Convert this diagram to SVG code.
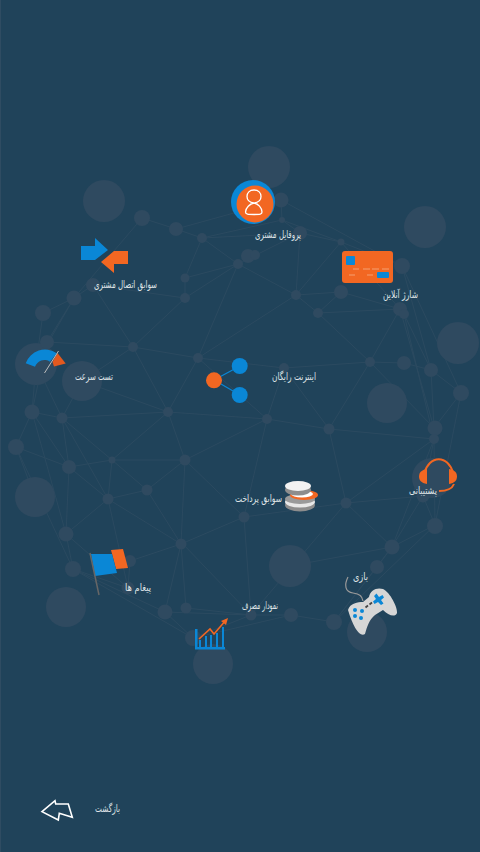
<svg xmlns="http://www.w3.org/2000/svg" width="480" height="852" viewBox="0 0 480 852">
<style>
.e{fill:none;stroke:#2b4a60;stroke-width:1}
.n{fill:#2f4a60}
.t{font-family:"DejaVu Sans","Noto Sans",sans-serif;font-size:10.5px;fill:#dfe4e7;text-anchor:middle}
.o{fill:#f26722}
.b{fill:#0a87d6}
</style>
<rect width="480" height="852" fill="#20435a"/>
<path d="M0.5 0V852" stroke="#2f4c62" fill="none"/>
<g id="connectors">
<path class="e" d="M142 218L176 229M176 229L202 238M176 229L281 200M142 218L74 298M202 238L185 278M202 238L238 264M202 238L300 233M202 238L282 220M185 278L185 298M185 278L238 264M185 298L238 264M185 298L133 347M185 298L93 285M93 285L74 298M93 285L133 347M74 298L43 313M74 298L47 342M74 298L36 364M43 313L36 364M47 342L133 347M133 347L198 358M133 347L168 412M133 347L82 381M82 381L168 412M238 264L198 358M238 264L296 295M238 264L300 233M281 200L282 220M281 200L402 266M282 220L300 233M282 220L341 242M300 233L341 242M300 233L296 295M341 242L296 295M341 242L402 266M341 242L400 309M296 295L318 313M296 295L341 292M296 295L198 358M318 313L341 292M318 313L400 309M318 313L370 362M341 292L400 309M400 309L370 362M404 314L431 370M400 309L434 428M402 266L431 370M402 266L461 393M404 314L434 439M370 362L404 363M404 363L431 370M431 370L461 393M431 370L434 428M461 393L434 428M461 393L435 525M370 362L434 428M370 362L329 429M370 362L284 368M198 358L284 368M198 358L267 419M198 358L168 412M284 368L267 419M284 368L329 429M267 419L329 429M329 429L434 439M329 429L346 503M434 439L346 503M434 439L392 547M434 439L435 525M434 439L423 496M423 496L435 525M423 496L392 547M346 503L423 496M346 503L392 547M346 503L251 615M346 503L244 517M267 419L244 517M267 419L185 460M267 419L168 412M168 412L185 460M168 412L112 460M185 460L112 460M185 460L147 490M185 460L181 544M185 460L244 517M181 544L244 517M168 412L62 418M435 525L392 547M435 525L334 622M392 547L377 567M392 547L290 566M392 547L334 622M377 567L334 622M334 622L291 615M291 615L251 615M251 615L244 517M251 615L182 543M251 615L186 608M251 615L165 612M251 615L193 638M193 638L165 612M186 608L181 544M165 612L181 544M193 638L291 615M193 638L73 569M165 612L73 569M181 544L147 490M181 544L108 499M181 544L130 561M147 490L108 499M147 490L112 460M112 460L108 499M112 460L69 467M112 460L62 418M108 499L69 467M108 499L62 418M108 499L66 534M108 499L128 588M69 467L66 534M69 467L16 447M69 467L62 418M69 467L32 412M32 412L62 418M32 412L16 447M32 412L36 364M62 418L36 364M62 418L82 381M32 412L47 342M16 447L73 569M16 447L35 497M32 412L66 534M66 534L73 569M66 534L128 588M73 569L128 588M130 561L128 588"/>
</g>
<g id="network-nodes" class="n">
<circle cx="269" cy="167" r="21"/><circle cx="104" cy="201" r="21"/><circle cx="425" cy="227" r="21"/><circle cx="458" cy="343" r="21"/><circle cx="387" cy="403" r="20"/><circle cx="82" cy="381" r="20"/><circle cx="36" cy="364" r="21"/><circle cx="35" cy="497" r="20"/><circle cx="66" cy="607" r="20"/><circle cx="213" cy="664" r="20"/><circle cx="290" cy="566" r="21"/><circle cx="367" cy="632" r="20"/><circle cx="432" cy="478" r="20"/>
<circle cx="281" cy="200" r="7.5"/><circle cx="282" cy="220" r="3"/><circle cx="300" cy="233" r="7"/><circle cx="341" cy="242" r="3.5"/><circle cx="202" cy="238" r="5"/><circle cx="238" cy="264" r="5"/><circle cx="248" cy="256" r="7"/><circle cx="255" cy="255" r="5"/><circle cx="296" cy="295" r="5"/><circle cx="318" cy="313" r="5"/><circle cx="341" cy="292" r="7"/><circle cx="402" cy="266" r="8"/><circle cx="400" cy="309" r="7"/><circle cx="404" cy="314" r="5"/><circle cx="176" cy="229" r="7"/><circle cx="142" cy="218" r="8"/><circle cx="185" cy="278" r="4.5"/><circle cx="185" cy="298" r="5"/><circle cx="93" cy="285" r="7"/><circle cx="74" cy="298" r="7.5"/><circle cx="43" cy="313" r="8"/><circle cx="47" cy="342" r="7"/><circle cx="133" cy="347" r="5"/><circle cx="198" cy="358" r="5"/><circle cx="168" cy="412" r="5"/><circle cx="32" cy="412" r="7.5"/><circle cx="62" cy="418" r="5.5"/><circle cx="284" cy="368" r="5"/><circle cx="370" cy="362" r="5"/><circle cx="404" cy="363" r="7"/><circle cx="431" cy="370" r="7"/><circle cx="461" cy="393" r="8"/><circle cx="435" cy="428" r="7.5"/><circle cx="434" cy="439" r="5"/><circle cx="267" cy="419" r="5"/><circle cx="329" cy="429" r="5.5"/><circle cx="346" cy="503" r="5.5"/><circle cx="244" cy="517" r="5.5"/><circle cx="435" cy="526" r="8"/><circle cx="423" cy="496" r="6.5"/><circle cx="392" cy="547" r="7.5"/><circle cx="377" cy="567" r="7"/><circle cx="334" cy="622" r="8"/><circle cx="291" cy="615" r="7"/><circle cx="251" cy="615" r="5.5"/><circle cx="16" cy="447" r="8"/><circle cx="69" cy="467" r="7"/><circle cx="112" cy="460" r="3.5"/><circle cx="185" cy="460" r="5.5"/><circle cx="108" cy="499" r="5.5"/><circle cx="147" cy="490" r="5.5"/><circle cx="66" cy="534" r="7.5"/><circle cx="73" cy="569" r="8"/><circle cx="130" cy="561" r="6"/><circle cx="128" cy="588" r="6.5"/><circle cx="181" cy="544" r="5.5"/><circle cx="165" cy="612" r="7.5"/><circle cx="186" cy="608" r="5.5"/><circle cx="193" cy="638" r="8"/>
</g>
<g id="profile">
<circle class="b" cx="253" cy="202" r="22"/><circle class="o" cx="255" cy="204" r="18.5"/>
<path d="M254 190C258.500 190 261 193 261 196.500C261 200 258 202.500 254 203C250 202.500 247 200 247 196.500C247 193 249.500 190 254 190ZM254 203C258 203.500 262 208 262 212C262 214.500 260 214.500 254 214.500C248 214.500 245.500 214.500 245.500 212C245.500 208 250 203.500 254 203Z" fill="none" stroke="#fff" stroke-width="1.3"/>
<text class="t" x="278" y="238" textLength="46" lengthAdjust="spacingAndGlyphs">پروفایل مشتری</text>
</g>
<g id="charge">
<rect class="o" x="342" y="251" width="51" height="32" rx="3"/>
<rect class="b" x="346" y="256" width="9" height="9" rx="1"/>
<rect class="b" x="377" y="272" width="12" height="6" rx="1"/>
<path d="M353 269h6M363 269h7M372 269h7M382 269h7M349 275h6M367 275h6" stroke="#f7c7a8" stroke-width="0.6" fill="none"/>
<text class="t" x="400.500" y="298" textLength="35" lengthAdjust="spacingAndGlyphs">شارژ آنلاین</text>
</g>
<g id="history">
<path class="b" d="M81 246H95V238L108 250L95 260H81Z"/>
<path class="o" d="M128 251H114L101 262L114 273V264H128Z"/>
<text class="t" x="125.500" y="288" textLength="63" lengthAdjust="spacingAndGlyphs">سوابق اتصال مشتری</text>
</g>
<g id="speed">
<path class="b" d="M25.700 363.300A20.400 20.400 0 0 1 56.700 353.300L50 361.700A10 10 0 0 0 35 366.700Z"/>
<path d="M57.500 353L65.700 363.500L54 366.500L52.500 362Z" fill="#e2591f"/>
<path d="M44.500 373L58.500 351" stroke="#bdbdbd" stroke-width="1" fill="none"/>
<text class="t" x="94" y="380" textLength="38" lengthAdjust="spacingAndGlyphs">تست سرعت</text>
</g>
<g id="free">
<path d="M214 380L240 366M214 380L240 395" stroke="#0a87d6" stroke-width="1.2" fill="none"/>
<circle class="o" cx="214" cy="380.300" r="8"/><circle class="b" cx="239.700" cy="366" r="8"/><circle class="b" cx="239.700" cy="395" r="8"/>
<text class="t" x="294" y="380" textLength="44" lengthAdjust="spacingAndGlyphs">اینترنت رایگان</text>
</g>
<g id="payment">
<ellipse cx="300" cy="505" rx="15" ry="6.500" fill="#8d8d8d"/><ellipse cx="300" cy="502" rx="15" ry="5.500" fill="#e8e8e8"/><ellipse cx="300" cy="499" rx="15" ry="5" fill="#9a9a9a"/>
<ellipse cx="304" cy="495" rx="14" ry="5" fill="#f26722"/><ellipse cx="302" cy="494" rx="11" ry="3.500" fill="#fff"/>
<ellipse cx="298" cy="490" rx="13" ry="5.500" fill="#8d8d8d"/><ellipse cx="298" cy="486" rx="13" ry="5" fill="#f2f2f2"/>
<text class="t" x="258.500" y="502" textLength="47" lengthAdjust="spacingAndGlyphs">سوابق پرداخت</text>
</g>
<g id="support">
<path d="M424.500 473A15 20 0 0 1 453 473" fill="none" stroke="#f26722" stroke-width="2"/>
<path class="o" d="M427 469V484C421 483 419 480 419 476.500C419 473 421 470 427 469Z"/>
<path class="o" d="M449 469V484C455 483 457 480 457 476.500C457 473 455 470 449 469Z"/>
<path d="M454 484C452 489 447 491 439 491" fill="none" stroke="#f26722" stroke-width="2"/>
<text class="t" x="423" y="494" textLength="28" lengthAdjust="spacingAndGlyphs">پشتیبانی</text>
</g>
<g id="messages">
<path class="o" d="M111 550L123 549L128 568L116 569Z"/>
<path class="b" d="M91 554L112 554L117 573L95 576Z"/>
<path d="M90 553L99 595" stroke="#666" stroke-width="1.5" fill="none"/>
<text class="t" x="138" y="591" textLength="26" lengthAdjust="spacingAndGlyphs">پیغام ها</text>
</g>
<g id="usage">
<path class="b" d="M195 629H197.500V647H225V649.500H195Z"/>
<path class="b" d="M199 640h2v7h-2zM205 636h2v11h-2zM210 635h2v12h-2zM216 633h2v14h-2zM222 627h2v20h-2z"/>
<path d="M199 639L210 629L214 634L226 620" fill="none" stroke="#f26722" stroke-width="1.6"/>
<path class="o" d="M228 618L221 621L226 625Z"/>
<text class="t" x="260" y="609" textLength="36" lengthAdjust="spacingAndGlyphs">نمودار مصرف</text>
</g>
<g id="game">
<path d="M348 577C344 585 345 592 353 593C360 594 362 596 363 601" fill="none" stroke="#999" stroke-width="1.2"/>
<path d="M348 610C350 603 358 602 363 602L369 597C370 590 377 587 383 589C390 592 398 608 397 613C395 618 388 615 383 610L375 615C369 620 367 627 365 634C360 638 353 627 348 610Z" fill="#d6d6d6"/>
<path class="b" d="M376.500 593.500L379 597L382.500 595L384 597.500L381 600L383.500 603.500L381 605L378 602L374.500 604L373 601.500L376 599L374 596Z"/>
<circle class="b" cx="355" cy="610" r="2"/><circle class="b" cx="362" cy="611" r="2"/><circle class="b" cx="355" cy="616" r="2"/><circle class="b" cx="361" cy="618" r="2"/>
<path d="M365.500 607.500L368 605.500M369.500 604.500L372 602.500" stroke="#444" stroke-width="1.8" fill="none"/>
<text class="t" x="360.500" y="580" textLength="15" lengthAdjust="spacingAndGlyphs">بازی</text>
</g>
<g id="back">
<path d="M42 811.700L55 800.700L55.700 804H68.300L72.300 817.300L59.300 813.300L58.300 820Z" fill="none" stroke="#fff" stroke-width="1.6"/>
<text class="t" x="107.500" y="812" textLength="25" lengthAdjust="spacingAndGlyphs">بازگشت</text>
</g>
</svg>
